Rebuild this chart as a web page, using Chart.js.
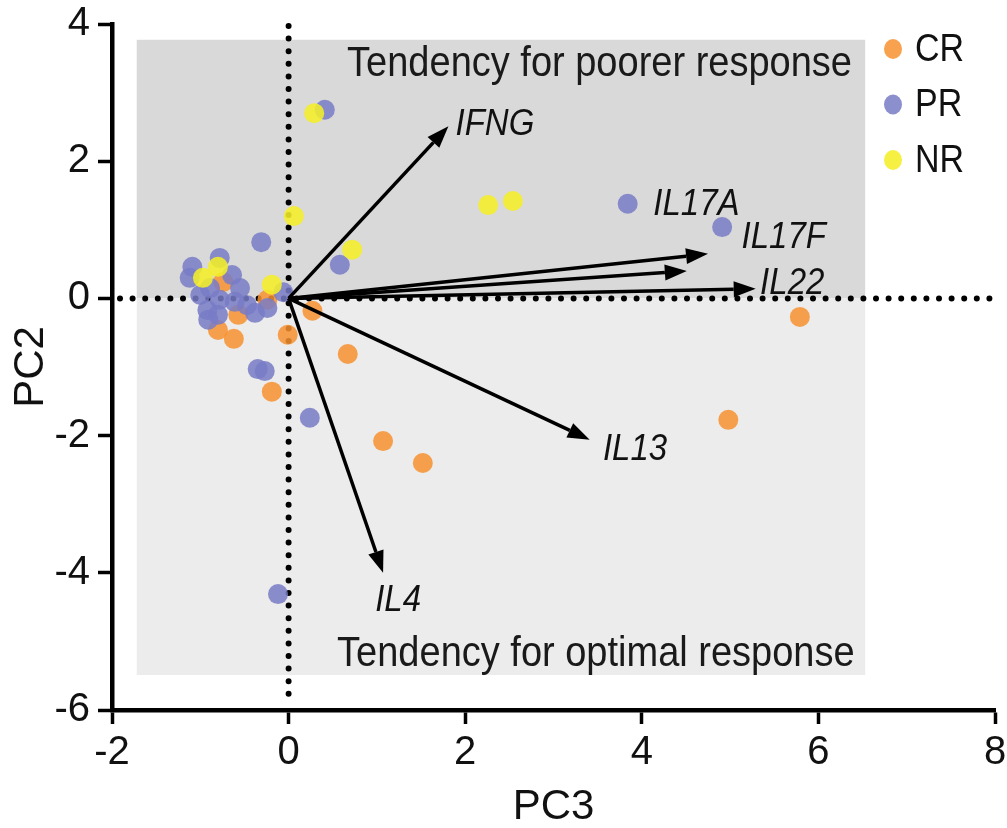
<!DOCTYPE html>
<html>
<head>
<meta charset="utf-8">
<script src="https://cdn.jsdelivr.net/npm/chart.js@4.4.1/dist/chart.umd.min.js"></script>
<style>
  html, body { margin: 0; padding: 0; background: #fff; }
  #wrap { width: 1007px; height: 828px; }
</style>
</head>
<body>
<div id="wrap"><canvas id="pca"></canvas></div>
<script>
// axis ticks
const xTicks = [-2, 0, 2, 4, 6, 8];
const yTicks = [-6, -4, -2, 0, 2, 4];

// response groups
const groups = ['CR', 'PR', 'NR'];
const crX = [5.79, 4.98, 1.07, 1.52, 0.67, 0.27, -0.01, -0.19, -0.24, -0.57, -0.80, -0.62, -0.74];
const crY = [-0.27, -1.77, -2.08, -2.40, -0.81, -0.18, -0.53, -1.36, -0.02, -0.24, -0.46, -0.59, 0.24];
const prX = [0.41, 3.84, 4.91, 0.58, 0.24, -0.12, -0.35, -0.27, -0.31, -1.09, -0.78, -1.12, -0.64, -0.55, -0.89, -1.00, -0.78, -0.47, -0.92, -0.80, -0.91, -0.38, -0.24, -0.06, -0.61];
const prY = [2.75, 1.38, 1.04, 0.49, -1.74, -4.31, -1.03, -1.06, 0.82, 0.46, 0.59, 0.30, 0.34, 0.15, 0.15, 0.05, -0.02, -0.10, -0.17, -0.24, -0.31, -0.21, -0.14, 0.09, -0.05];
const nrX = [0.29, 0.06, 0.72, 2.26, 2.54, -0.80, -0.97, -0.19];
const nrY = [2.70, 1.20, 0.71, 1.36, 1.42, 0.46, 0.30, 0.20];

// loading vectors (arrow tips) and where their labels sit
const genes = ['IFNG', 'IL17A', 'IL17F', 'IL22', 'IL13', 'IL4'];
const geneX = [1.81, 4.51, 4.75, 5.29, 3.41, 1.07];
const geneY = [2.51, 0.40, 0.65, 0.14, -2.06, -4.00];
const labelX = [1.89, 4.13, 5.13, 5.34, 3.56, 0.98];
const labelY = [2.53, 1.36, 0.88, 0.22, -2.21, -4.40];

// shaded regions
const zoneX = [-1.72, 6.53];
const zoneY = [3.77, 0, -5.49];
const zoneText = ['Tendency for poorer response', 'Tendency for optimal response'];
const zoneTextY = [3.42, -5.19];
const zoneTextRight = [6.38, 6.41];

const colors = ['rgba(247,146,48,0.85)', 'rgba(120,123,197,0.85)', 'rgba(244,238,40,0.88)'];
const FONT = '"Liberation Sans", Arial, Helvetica, sans-serif';
const STRETCH = 1.12;

function pts(xs, ys) {
  return xs.map((x, i) => ({ x: x, y: ys[i] }));
}

// text is a bit taller than wide in the original figure
function tallText(ctx, str, x, y) {
  ctx.save();
  ctx.translate(x, y);
  ctx.scale(1, STRETCH);
  ctx.fillText(str, 0, 0);
  ctx.restore();
}

const decor = {
  id: 'decor',
  beforeDatasetsDraw(chart) {
    const ctx = chart.ctx, xs = chart.scales.x, ys = chart.scales.y, a = chart.chartArea;
    const l = xs.getPixelForValue(zoneX[0]), r = xs.getPixelForValue(zoneX[1]);
    const t = ys.getPixelForValue(zoneY[0]), m = ys.getPixelForValue(zoneY[1]), b = ys.getPixelForValue(zoneY[2]);
    ctx.save();
    ctx.fillStyle = '#d9d9d9';
    ctx.fillRect(l, t, r - l, m - t);
    ctx.fillStyle = '#ececec';
    ctx.fillRect(l, m, r - l, b - m);

    // zone captions
    ctx.fillStyle = '#1a1a1a';
    ctx.font = '38px ' + FONT;
    ctx.textAlign = 'right';
    ctx.textBaseline = 'middle';
    for (let i = 0; i < zoneText.length; i++) {
      tallText(ctx, zoneText[i], xs.getPixelForValue(zoneTextRight[i]), ys.getPixelForValue(zoneTextY[i]));
    }

    // dotted zero lines
    const x0 = xs.getPixelForValue(0), y0 = ys.getPixelForValue(0);
    ctx.strokeStyle = '#000';
    ctx.lineWidth = 6;
    ctx.lineCap = 'round';
    ctx.setLineDash([0, 12.6]);
    ctx.beginPath();
    ctx.moveTo(a.left + 8, y0);
    ctx.lineTo(a.right, y0);
    ctx.moveTo(x0, a.top + 2);
    ctx.lineTo(x0, a.bottom - 6);
    ctx.stroke();
    ctx.restore();
  },
  afterDatasetsDraw(chart) {
    const ctx = chart.ctx, xs = chart.scales.x, ys = chart.scales.y;
    const ox = xs.getPixelForValue(0), oy = ys.getPixelForValue(0);
    ctx.save();
    ctx.strokeStyle = '#000';
    ctx.fillStyle = '#000';
    ctx.lineWidth = 3.5;
    for (let i = 0; i < genes.length; i++) {
      const tx = xs.getPixelForValue(geneX[i]), ty = ys.getPixelForValue(geneY[i]);
      const ang = Math.atan2(ty - oy, tx - ox);
      const hl = 22, hw = 8;
      const bx = tx - hl * Math.cos(ang), by = ty - hl * Math.sin(ang);
      ctx.beginPath();
      ctx.moveTo(ox, oy);
      ctx.lineTo(bx, by);
      ctx.stroke();
      ctx.beginPath();
      ctx.moveTo(tx, ty);
      ctx.lineTo(bx + hw * Math.sin(ang), by - hw * Math.cos(ang));
      ctx.lineTo(bx - hw * Math.sin(ang), by + hw * Math.cos(ang));
      ctx.closePath();
      ctx.fill();
    }
    ctx.font = 'italic 33px ' + FONT;
    ctx.textAlign = 'left';
    ctx.textBaseline = 'middle';
    ctx.fillStyle = '#111';
    for (let i = 0; i < genes.length; i++) {
      tallText(ctx, genes[i], xs.getPixelForValue(labelX[i]), ys.getPixelForValue(labelY[i]));
    }
    ctx.restore();
  },
  afterDraw(chart) {
    // legend, top right
    const ctx = chart.ctx;
    ctx.save();
    ctx.font = '34px ' + FONT;
    ctx.textAlign = 'left';
    ctx.textBaseline = 'middle';
    chart.data.datasets.forEach((ds, i) => {
      const cy = 49 + i * 55.5;
      ctx.fillStyle = ds.backgroundColor;
      ctx.beginPath();
      ctx.ellipse(893, cy, 9, 10, 0, 0, Math.PI * 2);
      ctx.fill();
      ctx.fillStyle = '#111';
      tallText(ctx, ds.label, 915, cy + 1);
    });
    ctx.restore();
  }
};

// NR drawn on top, CR underneath, as in the figure
const datasets = [pts(crX, crY), pts(prX, prY), pts(nrX, nrY)].map((d, i) => ({
  label: groups[i],
  data: d,
  order: 2 - i,
  backgroundColor: colors[i],
  borderWidth: 0,
  pointRadius: 10,
  pointHoverRadius: 10
}));

new Chart(document.getElementById('pca'), {
  type: 'scatter',
  data: { datasets: datasets },
  options: {
    responsive: true,
    maintainAspectRatio: false,
    animation: false,
    events: [],
    layout: { padding: 0 },
    plugins: { legend: { display: false }, tooltip: { enabled: false } },
    scales: {
      x: {
        type: 'linear',
        min: xTicks[0],
        max: xTicks[xTicks.length - 1],
        afterBuildTicks: s => { s.ticks = xTicks.map(v => ({ value: v })); },
        afterFit: s => { s.height = 118; s.paddingLeft = 0; s.paddingRight = 12; },
        grid: { drawOnChartArea: false, drawTicks: true, tickLength: 14, tickWidth: 3.5, tickColor: '#000' },
        border: { display: true, width: 4.5, color: '#000' },
        ticks: { color: '#111', padding: 5, font: { family: FONT, size: 40 } },
        title: { display: true, text: 'PC3', color: '#111', font: { family: FONT, size: 42, lineHeight: 1 }, padding: { top: 7, bottom: 0 } }
      },
      y: {
        type: 'linear',
        min: yTicks[0],
        max: yTicks[yTicks.length - 1],
        afterBuildTicks: s => { s.ticks = yTicks.map(v => ({ value: v })); },
        afterFit: s => { s.width = 112; s.paddingTop = 24; s.paddingBottom = 0; },
        grid: { drawOnChartArea: false, drawTicks: true, tickLength: 14, tickWidth: 3.5, tickColor: '#000' },
        border: { display: true, width: 4.5, color: '#000' },
        ticks: { color: '#111', padding: 8, font: { family: FONT, size: 40 } },
        title: { display: true, text: 'PC2', color: '#111', font: { family: FONT, size: 42, lineHeight: 1 }, padding: { top: 10, bottom: 0 } }
      }
    }
  },
  plugins: [decor]
});
</script>
</body>
</html>
